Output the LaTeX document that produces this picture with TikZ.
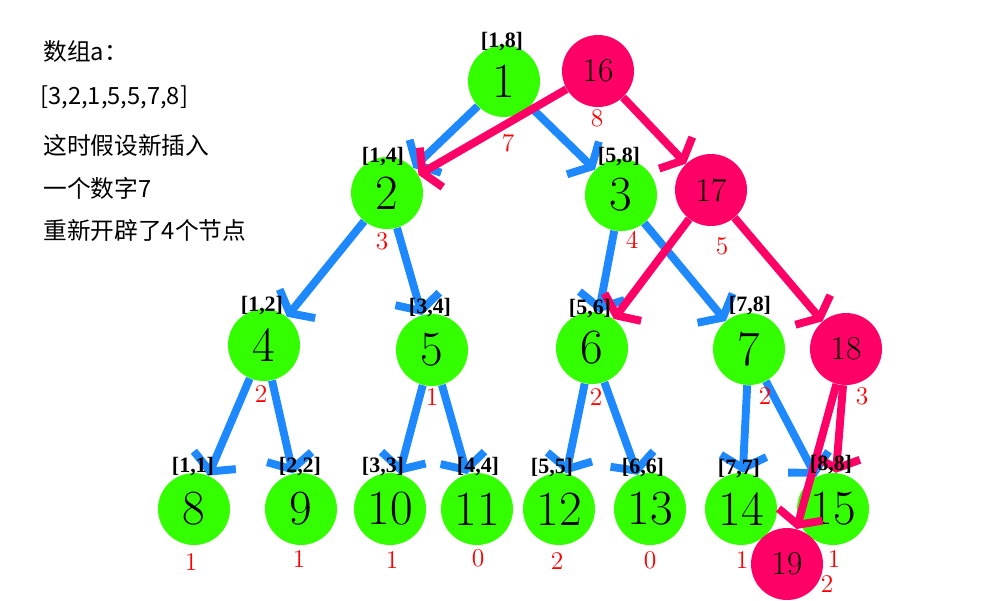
\documentclass[tikz,border=0pt]{standalone}
\usepackage{fontspec}
\newfontfamily\cjk{Noto Sans CJK SC}
\newfontfamily\rngfont{Liberation Serif}
\usepackage{tikz}
\usetikzlibrary{arrows.meta, backgrounds}
\definecolor{segGreen}{RGB}{51,255,0}
\definecolor{segPink}{RGB}{255,0,102}
\definecolor{segBlue}{RGB}{30,136,255}

\begin{document}
\begin{tikzpicture}[x=0.02cm, y=-0.02cm,
        oldnode/.style={circle, fill=segGreen, minimum size=1.44cm, inner sep=0pt, font=\fontsize{28}{28}\selectfont},
        newnode/.style={circle, fill=segPink, minimum size=1.44cm, inner sep=0pt, font=\fontsize{19}{19}\selectfont},
        seglabel/.style={inner sep=0pt, font=\rngfont\bfseries\fontsize{12.5}{13}\selectfont},
        cnt/.style={inner sep=0pt, text=red, font=\fontsize{14.5}{15}\selectfont},
        note/.style={anchor=west, inner sep=0pt, font=\cjk\fontsize{13.5}{14}\selectfont},
        treeedge/.style={segBlue, line width=4.5pt, -{Straight Barb[length=7pt,width=26pt]}},
        newedge/.style={segPink, line width=4.5pt, -{Straight Barb[length=6pt,width=26pt]}}]
    \useasboundingbox (0,0) rectangle (1000,600);

    % notes
    \node[note] at (43, 52)  (t1) {数组a：};
    \node[note] at (40, 97)  (t2) {[3,2,1,5,5,7,8]};
    \node[note] at (43, 145) (t3) {这时假设新插入};
    \node[note] at (43, 188) (t4) {一个数字7};
    \node[note] at (43, 230) (t5) {重新开辟了4个节点};

    % original tree
    \node[oldnode] at (504, 81)  (n1)  {1};
    \node[oldnode] at (387, 193) (n2)  {2};
    \node[oldnode] at (621, 195) (n3)  {3};
    \node[oldnode] at (264, 345) (n4)  {4};
    \node[oldnode] at (432, 350) (n5)  {5};
    \node[oldnode] at (592, 348) (n6)  {6};
    \node[oldnode] at (749, 349) (n7)  {7};
    \node[oldnode] at (194, 509) (n8)  {8};
    \node[oldnode] at (301, 509) (n9)  {9};
    \node[oldnode] at (390, 509) (n10) {10};
    \node[oldnode] at (477, 509) (n11) {11};
    \node[oldnode] at (559, 509) (n12) {12};
    \node[oldnode] at (650, 509) (n13) {13};
    \node[oldnode] at (741, 509) (n14) {14};
    \node[oldnode] at (833, 509) (n15) {15};

    % new nodes
    \node[newnode] at (598, 71)  (n16) {16};
    \node[newnode] at (711, 190) (n17) {17};
    \node[newnode] at (846, 349) (n18) {18};
    \node[newnode] at (787, 564) (n19) {19};

    \begin{scope}[on background layer]
        \draw[treeedge] (n1) -- (n2);
        \draw[treeedge] (n1) -- (n3);
        \draw[treeedge] (n2) -- (n4);
        \draw[treeedge] (n2) -- (n5);
        \draw[treeedge] (n3) -- (n6);
        \draw[treeedge] (n3) -- (n7);
        \draw[treeedge] (n4) -- (n8);
        \draw[treeedge] (n4) -- (n9);
        \draw[treeedge] (n5) -- (n10);
        \draw[treeedge] (n5) -- (n11);
        \draw[treeedge] (n6) -- (n12);
        \draw[treeedge] (n6) -- (n13);
        \draw[treeedge] (n7) -- (n14);
        \draw[treeedge] (n7) -- (n15);
    \end{scope}

    \draw[newedge] (n16) -- (n2);
    \draw[newedge] (n16) -- (n17);
    \draw[newedge] (n17) -- (n6);
    \draw[newedge] (n17) -- (n18);
    \draw[newedge] (n18) -- (n19);
    \draw[newedge] (n18) -- (n15);

    % ranges
    \node[seglabel] at (502, 42)  (r1)  {[1,8]};
    \node[seglabel] at (383, 157) (r2)  {[1,4]};
    \node[seglabel] at (619, 157) (r3)  {[5,8]};
    \node[seglabel] at (262, 306) (r4)  {[1,2]};
    \node[seglabel] at (430, 308) (r5)  {[3,4]};
    \node[seglabel] at (590, 309) (r6)  {[5,6]};
    \node[seglabel] at (750, 306) (r7)  {[7,8]};
    \node[seglabel] at (193, 467) (r8)  {[1,1]};
    \node[seglabel] at (300, 467) (r9)  {[2,2]};
    \node[seglabel] at (383, 467) (r10) {[3,3]};
    \node[seglabel] at (478, 467) (r11) {[4,4]};
    \node[seglabel] at (552, 468) (r12) {[5,5]};
    \node[seglabel] at (643, 468) (r13) {[6,6]};
    \node[seglabel] at (739, 469) (r14) {[7,7]};
    \node[seglabel] at (831, 465) (r15) {[8,8]};

    % counts
    \node[cnt] at (508, 143) (v1)  {7};
    \node[cnt] at (382, 241) (v2)  {3};
    \node[cnt] at (632, 240) (v3)  {4};
    \node[cnt] at (261, 394) (v4)  {2};
    \node[cnt] at (432, 397) (v5)  {1};
    \node[cnt] at (596, 397) (v6)  {2};
    \node[cnt] at (765, 396) (v7)  {2};
    \node[cnt] at (191, 562) (v8)  {1};
    \node[cnt] at (299, 559) (v9)  {1};
    \node[cnt] at (392, 560) (v10) {1};
    \node[cnt] at (478, 558) (v11) {0};
    \node[cnt] at (557, 561) (v12) {2};
    \node[cnt] at (650, 560) (v13) {0};
    \node[cnt] at (742, 560) (v14) {1};
    \node[cnt] at (834, 559) (v15) {1};
    \node[cnt] at (597, 118) (v16) {8};
    \node[cnt] at (722, 246) (v17) {5};
    \node[cnt] at (862, 396) (v18) {3};
    \node[cnt] at (827, 584) (v19) {2};
\end{tikzpicture}
\end{document}
